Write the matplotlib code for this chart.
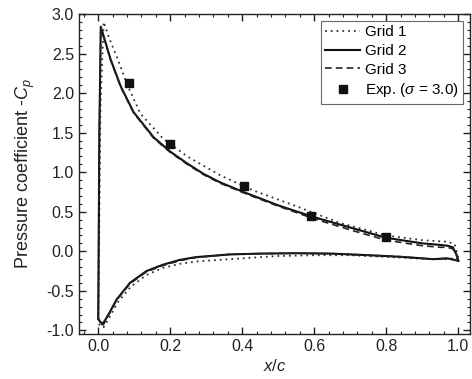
import numpy as np
import matplotlib.pyplot as plt
from matplotlib.ticker import MultipleLocator

plt.rcParams['font.family'] = ['Liberation Sans', 'DejaVu Sans']
plt.rcParams['mathtext.fontset'] = 'custom'
plt.rcParams['mathtext.it'] = 'Liberation Sans:italic'
plt.rcParams['mathtext.rm'] = 'Liberation Sans'
plt.rcParams['axes.unicode_minus'] = False

# Grid 2 (solid) - upper surface (suction side), x/c and -Cp
g2_xu = [0.0, 0.003, 0.007, 0.015, 0.034, 0.062, 0.098, 0.154, 0.2, 0.247, 0.292, 0.339,
         0.403, 0.5, 0.6, 0.7, 0.8, 0.9, 0.95, 0.97, 0.985, 0.995, 1.0]
g2_cu = [-0.85, 1.5, 2.84, 2.72, 2.43, 2.09, 1.76, 1.44, 1.26, 1.11, 0.98, 0.87,
         0.75, 0.58, 0.43, 0.3, 0.17, 0.1, 0.08, 0.07, 0.05, -0.04, -0.12]
# Grid 2 - lower surface
g2_xl = [0.0, 0.006, 0.014, 0.032, 0.051, 0.088, 0.134, 0.18, 0.226, 0.27, 0.365, 0.45,
         0.55, 0.65, 0.75, 0.84, 0.93, 0.97, 1.0]
g2_cl = [-0.85, -0.9, -0.91, -0.77, -0.61, -0.4, -0.25, -0.17, -0.11, -0.075, -0.04, -0.03,
         -0.025, -0.03, -0.05, -0.07, -0.1, -0.09, -0.12]

# Grid 1 (dotted)
g1_xu = [0.0, 0.006, 0.015, 0.03, 0.054, 0.081, 0.117, 0.181, 0.247, 0.339, 0.43, 0.55,
         0.67, 0.8, 0.9, 0.97, 0.99, 1.0]
g1_cu = [-0.9, 1.8, 2.9, 2.7, 2.43, 2.1, 1.74, 1.42, 1.2, 0.96, 0.77, 0.57,
         0.36, 0.2, 0.14, 0.12, 0.09, -0.08]
g1_xl = [0.0, 0.006, 0.015, 0.033, 0.055, 0.09, 0.134, 0.18, 0.226, 0.27, 0.365, 0.5,
         0.6, 0.7, 0.84, 0.93, 0.97, 1.0]
g1_cl = [-0.9, -0.95, -0.96, -0.82, -0.64, -0.45, -0.3, -0.21, -0.16, -0.13, -0.1, -0.06,
         -0.05, -0.05, -0.08, -0.1, -0.1, -0.08]

# Grid 3 (dashed)
g3_xu = [0.0, 0.003, 0.007, 0.015, 0.034, 0.062, 0.098, 0.154, 0.2, 0.247, 0.292, 0.339,
         0.403, 0.5, 0.6, 0.7, 0.8, 0.9, 0.95, 0.97, 0.985, 0.995, 1.0]
g3_cu = [-0.86, 1.5, 2.83, 2.71, 2.42, 2.08, 1.75, 1.43, 1.25, 1.1, 0.97, 0.86,
         0.74, 0.57, 0.41, 0.27, 0.14, 0.07, 0.05, 0.05, 0.03, -0.05, -0.12]
g3_xl = [0.0, 0.006, 0.014, 0.032, 0.051, 0.088, 0.134, 0.18, 0.226, 0.27, 0.365, 0.45,
         0.55, 0.65, 0.75, 0.84, 0.93, 0.97, 1.0]
g3_cl = [-0.86, -0.92, -0.93, -0.78, -0.62, -0.41, -0.26, -0.18, -0.12, -0.08, -0.04, -0.03,
         -0.025, -0.03, -0.05, -0.07, -0.1, -0.09, -0.12]

# Experiment (sigma = 3.0)
exp_x = [0.085, 0.2, 0.405, 0.59, 0.8]
exp_cp = [2.13, 1.36, 0.83, 0.45, 0.18]

fig = plt.figure(figsize=(4.72, 3.79), dpi=100)
ax = fig.add_axes([0.167, 0.118, 0.829, 0.845])


def loop(xu, cu, xl, cl):
    # walk the upper surface from trailing edge to leading edge, then the lower one back
    return list(xu[::-1]) + list(xl), list(cu[::-1]) + list(cl)


x1, c1 = loop(g1_xu, g1_cu, g1_xl, g1_cl)
x2, c2 = loop(g2_xu, g2_cu, g2_xl, g2_cl)
x3, c3 = loop(g3_xu, g3_cu, g3_xl, g3_cl)

ax.plot(x1, c1, color='#333333', lw=1.3, linestyle=(0, (1, 2.2)), label='Grid 1')
ax.plot(x2, c2, color='#111111', lw=1.5, label='Grid 2')
ax.plot(x3, c3, color='#222222', lw=1.2, linestyle=(0, (4, 2.5)), label='Grid 3')
ax.plot(exp_x, exp_cp, 's', color='#111111', markersize=6, linestyle='none',
        label=r'Exp. ($\sigma$ = 3.0)')

ax.set_xlim(-0.054, 1.033)
ax.set_ylim(-1.05, 3.0)
ax.xaxis.set_major_locator(MultipleLocator(0.2))
ax.xaxis.set_minor_locator(MultipleLocator(0.04))
ax.yaxis.set_major_locator(MultipleLocator(0.5))
ax.yaxis.set_minor_locator(MultipleLocator(0.1))
ax.tick_params(which='both', direction='in', top=True, right=True, labelsize=11.5,
               colors='#222222')
ax.tick_params(which='major', length=5, width=1)
ax.tick_params(which='minor', length=2.5, width=0.8)
for s in ax.spines.values():
    s.set_linewidth(1.0)
    s.set_color('#222222')

ax.set_xlabel(r'$x$/$c$', fontsize=12, color='#222222', labelpad=3)
ax.set_ylabel(r'Pressure coefficient -$C_p$', fontsize=13, color='#222222', labelpad=7)

leg = ax.legend(loc='upper right', fontsize=11, frameon=True, fancybox=False,
                edgecolor='#444444', handlelength=2.3, handletextpad=0.3,
                labelspacing=0.3, borderpad=0.3, borderaxespad=0.45)
leg.get_frame().set_linewidth(0.8)

fig.savefig('out.png', dpi=100)
